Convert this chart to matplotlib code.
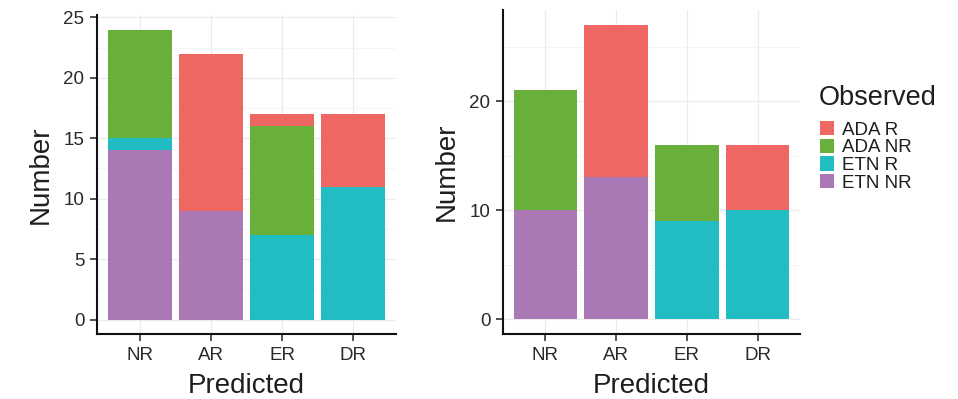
import numpy as np
import matplotlib
matplotlib.use("Agg")
import matplotlib.pyplot as plt
from matplotlib.patches import Patch

plt.rcParams['font.family'] = ['Liberation Sans', 'DejaVu Sans']

# ---------------------------
# DATA
# ---------------------------
categories = ["NR", "AR", "ER", "DR"]
groups = ["ADA R", "ADA NR", "ETN R", "ETN NR"]
colors = {"ADA R": "#EF6763", "ADA NR": "#69AF3C",
          "ETN R": "#22BDC3", "ETN NR": "#AB78B6"}

# left panel (stack order bottom -> top: ETN NR, ETN R, ADA NR, ADA R)
left_etn_nr = [14, 9, 0, 0]
left_etn_r = [1, 0, 7, 11]
left_ada_nr = [9, 0, 9, 0]
left_ada_r = [0, 13, 1, 6]

# right panel
right_etn_nr = [10, 13, 0, 0]
right_etn_r = [0, 0, 9, 10]
right_ada_nr = [11, 0, 7, 0]
right_ada_r = [0, 14, 0, 6]

left_ticks = [0, 5, 10, 15, 20, 25]
right_ticks = [0, 10, 20]

W, H = 958, 399
fig = plt.figure(figsize=(W / 100, H / 100), dpi=100)


def px_axes(x0, x1, ytop, ybot):
    return fig.add_axes([x0 / W, (H - ybot) / H, (x1 - x0) / W, (ybot - ytop) / H])


def draw_panel(ax, stacks, ticks):
    x = np.arange(1, len(categories) + 1)
    bottom = np.zeros(len(categories))
    for name, vals in stacks:
        vals = np.array(vals, dtype=float)
        ax.bar(x, vals, bottom=bottom, width=0.9, color=colors[name],
               linewidth=0, zorder=3)
        bottom += vals
    top = bottom.max()
    ax.set_xlim(0.4, len(categories) + 0.6)
    ax.set_ylim(-0.05 * top, top * 1.05)
    ax.set_xticks(x)
    ax.set_xticklabels(categories)
    ax.set_yticks(ticks)
    minor = [(a + b) / 2 for a, b in zip(ticks[:-1], ticks[1:])]
    if ticks[-1] + (ticks[1] - ticks[0]) / 2 < top * 1.05:
        minor.append(ticks[-1] + (ticks[1] - ticks[0]) / 2)
    ax.set_yticks(minor, minor=True)
    ax.grid(True, which='major', color='#EBEBEB', linewidth=0.9, zorder=0)
    ax.grid(True, which='minor', axis='y', color='#F4F4F4', linewidth=0.6, zorder=0)
    ax.tick_params(which='minor', length=0)
    for s in ["top", "right"]:
        ax.spines[s].set_visible(False)
    for s in ["left", "bottom"]:
        ax.spines[s].set_linewidth(1.5)
        ax.spines[s].set_color('#111111')
    ax.tick_params(which='major', direction='out', length=5, width=1.2,
                   color='#333333', labelsize=13.5, labelcolor='#2a2a2a', pad=4)
    ax.set_xlabel("Predicted", fontsize=20, color='#1e1e1e', labelpad=7)
    ax.set_ylabel("Number", fontsize=20, color='#1e1e1e', labelpad=7)


ax1 = px_axes(97, 396, 15, 334)
draw_panel(ax1, [("ETN NR", left_etn_nr), ("ETN R", left_etn_r),
                 ("ADA NR", left_ada_nr), ("ADA R", left_ada_r)], left_ticks)

ax2 = px_axes(503, 800, 10, 334)
draw_panel(ax2, [("ETN NR", right_etn_nr), ("ETN R", right_etn_r),
                 ("ADA NR", right_ada_nr), ("ADA R", right_ada_r)], right_ticks)

# legend (title drawn separately to get ggplot-like gap)
fig.text(819 / W, 1 - 98 / H, "Observed", fontsize=19.5, color='#1e1e1e',
         ha='left', va='center')
handles = [Patch(facecolor=colors[g], edgecolor='none', label=g) for g in groups]
leg = fig.legend(handles=handles, loc='upper left',
                 bbox_to_anchor=(820 / W, 1 - 121 / H), frameon=False,
                 fontsize=13.5, handlelength=0.75,
                 handleheight=0.8, handletextpad=0.45, labelspacing=0.0,
                 borderpad=0, borderaxespad=0)
for t in leg.get_texts():
    t.set_color('#1e1e1e')

fig.savefig("out.png", dpi=100)
